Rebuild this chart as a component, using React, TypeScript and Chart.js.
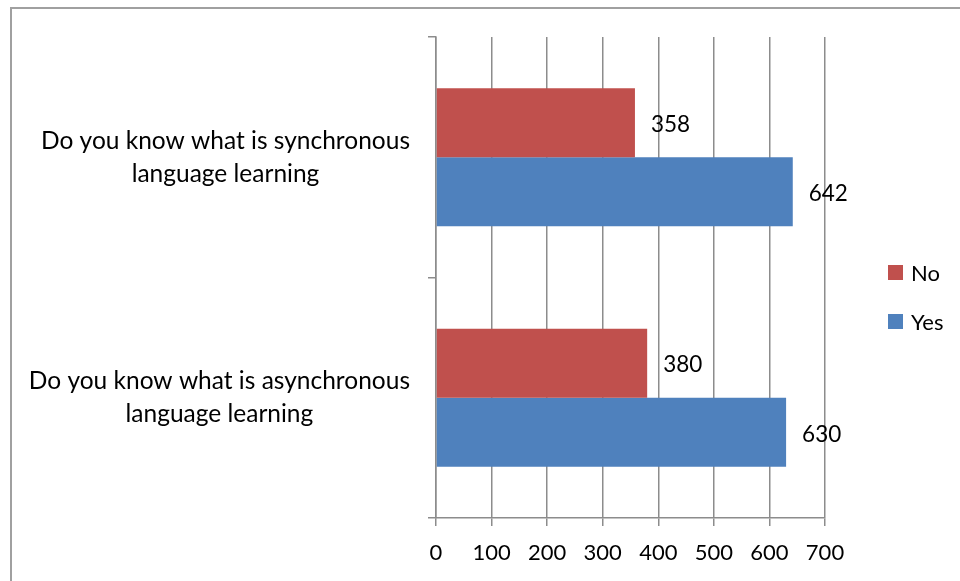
import React, { useEffect, useRef } from "react";
import { Chart, registerables } from "chart.js";

Chart.register(...registerables);

const categories: string[][] = [
  ["Do you know what is synchronous", "language learning"],
  ["Do you know what is asynchronous", "language learning"],
];
const noValues = [358, 380];
const yesValues = [642, 630];
const seriesNames = ["No", "Yes"];
const seriesColors = ["#C0504D", "#4F81BD"];
const xTicks = [0, 100, 200, 300, 400, 500, 600, 700];

const FONT = "Lato, 'Open Sans', sans-serif";

const valueLabels = {
  id: "valueLabels",
  afterDatasetsDraw(chart: any) {
    const ctx = chart.ctx;
    ctx.save();
    ctx.font = `22.5px ${FONT}`;
    ctx.fillStyle = "#000";
    ctx.textAlign = "left";
    ctx.textBaseline = "middle";
    chart.data.datasets.forEach((ds: any, i: number) => {
      const meta = chart.getDatasetMeta(i);
      meta.data.forEach((bar: any, j: number) => {
        ctx.fillText(String(ds.data[j]), bar.x + 16, bar.y + 2);
      });
    });
    ctx.restore();
  },
};

// Category labels: each block right-aligned, lines centred within the block
const categoryLabels = {
  id: "categoryLabels",
  afterDraw(chart: any) {
    const ctx = chart.ctx;
    const yScale = chart.scales.y;
    ctx.save();
    ctx.font = `24.5px ${FONT}`;
    ctx.fillStyle = "#000";
    ctx.textAlign = "center";
    ctx.textBaseline = "middle";
    const right = yScale.right - 8 - 18;
    const lineH = 33;
    chart.data.labels.forEach((lines: string[], idx: number) => {
      const cy = yScale.getPixelForTick(idx);
      const widest = Math.max(...lines.map((l) => ctx.measureText(l).width));
      const cx = right - widest / 2;
      const y0 = cy - ((lines.length - 1) * lineH) / 2;
      lines.forEach((l, k) => ctx.fillText(l, cx, y0 + k * lineH));
    });
    ctx.restore();
  },
};

const sideLegend = {
  id: "sideLegend",
  afterDraw(chart: any) {
    const ctx = chart.ctx;
    const area = chart.chartArea;
    ctx.save();
    ctx.font = `22px ${FONT}`;
    ctx.textBaseline = "middle";
    ctx.textAlign = "left";
    const x0 = area.right + 63;
    const midY = (area.top + area.bottom) / 2;
    const gap = 49;
    const startY = midY - 5;
    chart.data.datasets.forEach((ds: any, i: number) => {
      const cy = startY + i * gap;
      ctx.fillStyle = ds.backgroundColor;
      ctx.fillRect(x0, cy - 7.5, 15, 15);
      ctx.fillStyle = "#000";
      ctx.fillText(ds.label, x0 + 23, cy + 1);
    });
    ctx.restore();
  },
};

export default function App() {
  const ref = useRef<HTMLCanvasElement | null>(null);
  useEffect(() => {
    if (!ref.current) return;
    const chart = new Chart(ref.current, {
      type: "bar",
      data: {
        labels: categories,
        datasets: [
          {
            label: seriesNames[0],
            data: noValues,
            backgroundColor: seriesColors[0],
            categoryPercentage: 0.574,
            barPercentage: 1,
          },
          {
            label: seriesNames[1],
            data: yesValues,
            backgroundColor: seriesColors[1],
            categoryPercentage: 0.574,
            barPercentage: 1,
          },
        ],
      },
      options: {
        indexAxis: "y",
        animation: false,
        responsive: false,
        maintainAspectRatio: false,
        layout: { padding: { top: 37, right: 135, left: 0, bottom: 0 } },
        plugins: {
          legend: { display: false },
          tooltip: { enabled: false },
        },
        scales: {
          x: {
            min: xTicks[0],
            max: xTicks[xTicks.length - 1],
            afterBuildTicks: (scale: any) => {
              scale.ticks = xTicks.map((v) => ({ value: v }));
            },
            afterFit: (scale: any) => {
              scale.height = 63;
              scale.paddingLeft = 0;
              scale.paddingRight = 0;
            },
            grid: {
              color: "#8c8c8c",
              lineWidth: 1.5,
              tickLength: 8,
              drawOnChartArea: true,
            },
            border: { display: true, color: "#8c8c8c", width: 1.5 },
            ticks: {
              color: "#000",
              font: { family: FONT, size: 22 },
              padding: 14,
              maxRotation: 0,
              autoSkip: false,
            },
          },
          y: {
            afterFit: (scale: any) => {
              scale.width = 436;
              scale.paddingTop = 0;
              scale.paddingBottom = 0;
            },
            grid: {
              color: "#8c8c8c",
              lineWidth: 1.5,
              tickLength: 8,
              drawOnChartArea: false,
              offset: true,
            },
            border: { display: true, color: "#8c8c8c", width: 1.5 },
            ticks: {
              display: true,
              color: "rgba(0,0,0,0)",
              font: { family: FONT, size: 24.5, lineHeight: 1.35 },
              padding: 18,
              crossAlign: "center",
            },
          },
        },
      },
      plugins: [valueLabels, categoryLabels, sideLegend],
    });
    return () => chart.destroy();
  }, []);

  return (
    <div
      style={{
        position: "fixed",
        left: 0,
        top: 0,
        width: 960,
        height: 581,
        overflow: "hidden",
        background: "#fff",
      }}
    >
      <div
        style={{
          position: "absolute",
          left: 10,
          top: 7,
          width: 1000,
          height: 700,
          borderLeft: "2px solid #a0a0a0",
          borderTop: "2px solid #a0a0a0",
        }}
      />
      <canvas
        ref={ref}
        width={960}
        height={581}
        style={{ position: "absolute", left: 0, top: 0, width: 960, height: 581 }}
      />
    </div>
  );
}
